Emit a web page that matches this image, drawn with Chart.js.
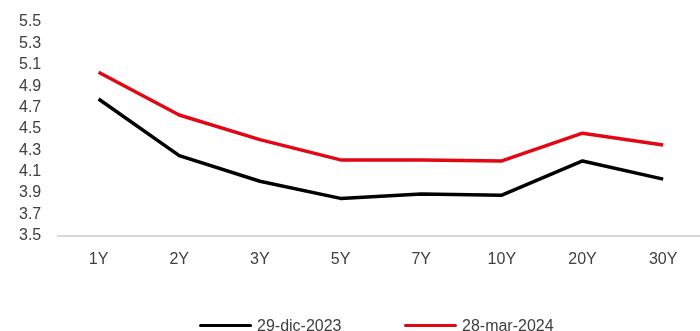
<!DOCTYPE html>
<html>
<head>
<meta charset="utf-8">
<script src="https://cdn.jsdelivr.net/npm/chart.js@4/dist/chart.umd.min.js"></script>
<style>
  html, body { margin: 0; padding: 0; background: #ffffff; }
  #wrap { position: relative; width: 700px; height: 331px; overflow: hidden; }
  #c { position: absolute; left: 0; top: 0; }
  .leg { position: absolute; top: 316px; height: 19px; display: flex; align-items: center;
         font-family: "Liberation Sans", Arial, sans-serif; font-size: 16px; color: #404040; white-space: nowrap; }
  .leg .sw { display: inline-block; width: 53px; height: 3.5px; border-radius: 2px; margin-right: 5px; }
</style>
</head>
<body>
<div id="wrap">
  <canvas id="c" width="704" height="331"></canvas>
  <div id="legend"></div>
</div>
<script>
const categories = ["1Y", "2Y", "3Y", "5Y", "7Y", "10Y", "20Y", "30Y"];
const seriesDec2023 = [4.78, 4.25, 4.01, 3.85, 3.89, 3.88, 4.20, 4.03];
const seriesMar2024 = [5.03, 4.63, 4.40, 4.21, 4.21, 4.20, 4.46, 4.35];
const seriesNames = ["29-dic-2023", "28-mar-2024"];
const seriesColors = ["#000000", "#e30613"];
const yTicks = [3.5, 3.7, 3.9, 4.1, 4.3, 4.5, 4.7, 4.9, 5.1, 5.3, 5.5];

const font = { family: "'Liberation Sans', Arial, sans-serif", size: 16 };

const chart = new Chart(document.getElementById('c'), {
  type: 'line',
  data: {
    labels: categories,
    datasets: [
      { label: seriesNames[0], data: seriesDec2023, borderColor: seriesColors[0], backgroundColor: seriesColors[0],
        borderWidth: 3.5, pointRadius: 0, tension: 0, borderJoinStyle: 'round', fill: false },
      { label: seriesNames[1], data: seriesMar2024, borderColor: seriesColors[1], backgroundColor: seriesColors[1],
        borderWidth: 3.5, pointRadius: 0, tension: 0, borderJoinStyle: 'round', fill: false }
    ]
  },
  options: {
    responsive: false,
    animation: false,
    layout: { padding: { left: 2, right: 0.5, top: 22, bottom: 48 } },
    plugins: { legend: { display: false }, tooltip: { enabled: false } },
    scales: {
      x: {
        offset: true,
        afterFit: (s) => { s.paddingLeft = 0; s.paddingRight = 0; },
        grid: { display: false, drawTicks: false },
        border: { display: true, color: '#d9d9d9', width: 2 },
        ticks: { color: '#404040', font: font, padding: 14, maxRotation: 0, autoSkip: false }
      },
      y: {
        min: 3.5, max: 5.5,
        afterBuildTicks: (scale) => { scale.ticks = yTicks.map(v => ({ value: v })); },
        afterFit: (s) => { s.paddingTop = 0; s.paddingBottom = 0; },
        grid: { display: false, drawTicks: false },
        border: { display: false },
        ticks: { color: '#404040', font: font, padding: 17, autoSkip: false, callback: (v) => Number(v).toFixed(1) }
      }
    }
  }
});

// HTML legend built from the series arrays
const legend = document.getElementById('legend');
const legendX = [199, 404];
seriesNames.forEach((name, i) => {
  const item = document.createElement('div');
  item.className = 'leg';
  item.style.left = legendX[i] + 'px';
  const sw = document.createElement('span');
  sw.className = 'sw';
  sw.style.background = seriesColors[i];
  const tx = document.createElement('span');
  tx.textContent = name;
  item.appendChild(sw);
  item.appendChild(tx);
  legend.appendChild(item);
});
</script>
</body>
</html>
